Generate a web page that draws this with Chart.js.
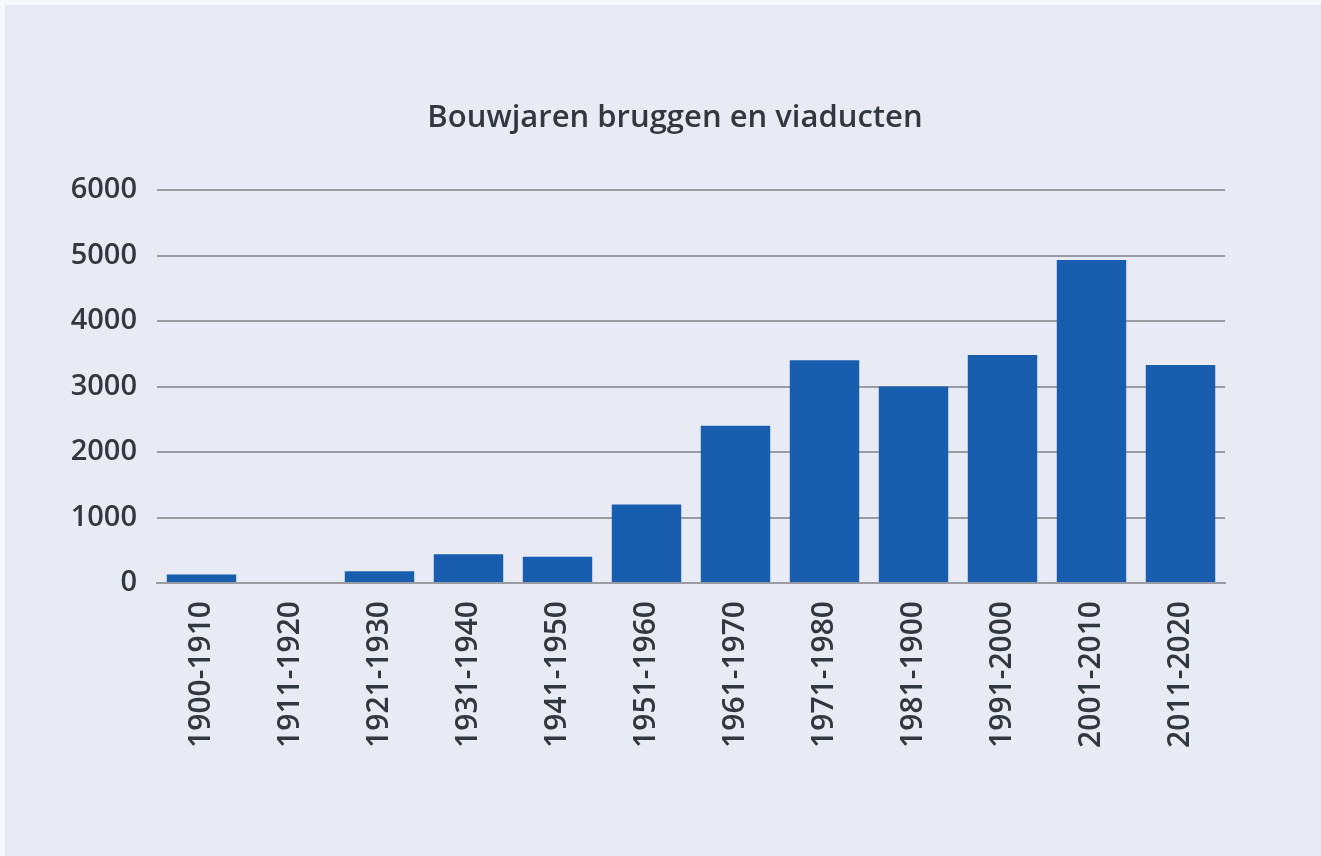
<!DOCTYPE html>
<html>
<head>
<meta charset="utf-8">
<script src="https://cdn.jsdelivr.net/npm/chart.js@4/dist/chart.umd.min.js"></script>
<style>
  html, body { margin: 0; padding: 0; background: #f7f8fb; }
  #wrap { position: absolute; left: 5px; top: 5px; width: 1316px; height: 851px; background: #e8eaf4; }
</style>
</head>
<body>
<div id="wrap"><canvas id="grafiek" width="1316" height="851"></canvas></div>
<script>
const perioden = ["1900-1910", "1911-1920", "1921-1930", "1931-1940", "1941-1950", "1951-1960",
  "1961-1970", "1971-1980", "1981-1900", "1991-2000", "2001-2010", "2011-2020"];
const aantallen = [130, 0, 180, 440, 400, 1200, 2400, 3400, 3000, 3480, 4930, 3330];
const yTicks = [0, 1000, 2000, 3000, 4000, 5000, 6000];
const titel = "Bouwjaren bruggen en viaducten";

const tekstKleur = "#333740";
const ctx = document.getElementById("grafiek").getContext("2d");

// titel iets rechts van het midden, zoals in het origineel
const titelPlugin = {
  id: "titel",
  afterDraw(chart) {
    const c = chart.ctx;
    c.save();
    c.fillStyle = tekstKleur;
    c.font = "600 31px 'Open Sans'";
    c.textAlign = "center";
    c.textBaseline = "middle";
    c.fillText(titel, chart.width / 2 + 12, 113);
    c.restore();
  }
};

new Chart(ctx, {
  type: "bar",
  data: {
    labels: perioden,
    datasets: [{
      data: aantallen,
      backgroundColor: "#185dae",
      categoryPercentage: 0.78,
      barPercentage: 1.0,
    }],
  },
  plugins: [titelPlugin],
  options: {
    responsive: false,
    animation: false,
    layout: { padding: { left: 0, right: 96, top: 185, bottom: 0 } },
    plugins: {
      legend: { display: false },
      tooltip: { enabled: false },
    },
    scales: {
      x: {
        grid: { display: false },
        border: { display: true, color: "#9a9ca3", width: 2 },
        ticks: {
          color: tekstKleur,
          font: { family: "Open Sans", size: 30, weight: 600 },
          minRotation: 90,
          maxRotation: 90,
          padding: 10,
          autoSkip: false,
        },
        afterFit: (scale) => { scale.height = 851 - 578; },
      },
      y: {
        min: 0,
        max: 6000,
        afterBuildTicks: (scale) => { scale.ticks = yTicks.map(v => ({ value: v })); },
        grid: { color: "#9a9ca3", lineWidth: 2, drawTicks: false },
        border: { display: false },
        ticks: {
          color: tekstKleur,
          font: { family: "Open Sans", size: 29, weight: 600 },
          padding: 20,
          callback: (v) => String(v),
        },
        afterFit: (scale) => { scale.width = 152; },
      },
    },
  },
});
</script>
</body>
</html>
